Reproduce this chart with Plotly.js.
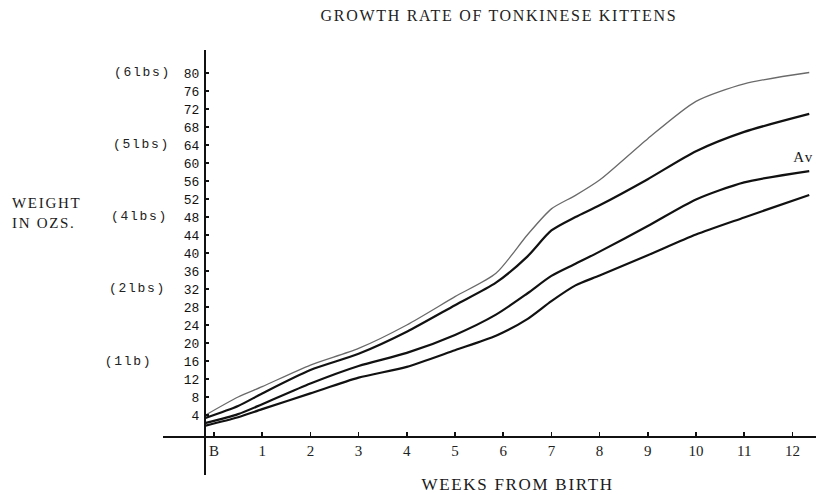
<!DOCTYPE html>
<html>
<head>
<meta charset="utf-8">
<script src="https://cdn.plot.ly/plotly-3.0.1.min.js"></script>
<style>
  html, body { margin: 0; padding: 0; background: #fff; }
  #chart { width: 816px; height: 495px; }
  .main-svg text.gtitle, .main-svg text.annotation-text { letter-spacing: 1.7px; }
</style>
</head>
<body>
<div id="chart"></div>
<script>
// Weeks from birth (B = 0)
const weeks    = [-0.19, 0.5, 1, 2, 3, 4, 5, 5.85, 6.5, 7, 7.5, 8, 9, 10, 11, 12.35];
// Weight in ounces
const heaviest = [3.9, 8.0, 10.3, 15.1, 18.8, 24.0, 30.3, 35.5, 44.0, 49.8, 52.8, 56.2, 65.4, 73.7, 77.6, 80.1];
const upper    = [3.3, 6.0, 8.8, 14.0, 17.6, 22.5, 28.4, 33.4, 39.2, 45.0, 48.0, 50.6, 56.4, 62.6, 66.9, 70.9];
const average  = [2.2, 4.2, 6.4, 11.0, 14.9, 17.8, 21.8, 26.3, 31.0, 34.9, 37.6, 40.3, 46.0, 51.9, 55.7, 58.2];
const lower    = [1.6, 3.5, 5.3, 8.8, 12.3, 14.7, 18.4, 21.6, 25.3, 29.3, 32.8, 35.0, 39.5, 44.1, 47.9, 52.9];

const xTickVals = [0, 1, 2, 3, 4, 5, 6, 7, 8, 9, 10, 11, 12];
const xTickText = ['B', '1', '2', '3', '4', '5', '6', '7', '8', '9', '10', '11', '12'];
const yTickVals = [4, 8, 12, 16, 20, 24, 28, 32, 36, 40, 44, 48, 52, 56, 60, 64, 68, 72, 76, 80];
const lbsLabels = ['(6lbs)', '(5lbs)', '(4lbs)', '(2lbs)', '(1lb)'];
const lbsAt     = [80, 64, 48, 32, 16];

const serif = 'Liberation Serif, Times New Roman, serif';
const mono = 'Liberation Mono, Courier New, monospace';

function series(y, color, width) {
  return {
    x: weeks, y: y, type: 'scatter', mode: 'lines',
    line: { color: color, width: width, shape: 'spline', smoothing: 0.7 },
    hoverinfo: 'skip', showlegend: false
  };
}

const data = [
  series(heaviest, '#6a6a6a', 1.3),
  series(upper, '#111', 2.2),
  series(average, '#111', 2.2),
  series(lower, '#111', 2.2)
];

const lbsX = [0.008, 0.006, 0.003, 0.0, -0.02];
const annotations = lbsLabels.map((t, i) => ({
  text: t, xref: 'paper', yref: 'y', x: lbsX[i], y: lbsAt[i],
  xanchor: 'right', yanchor: 'middle', showarrow: false,
  font: { family: mono, size: 13, color: '#222' }
}));
annotations.push({
  text: 'WEIGHT<br>IN OZS.', xref: 'paper', yref: 'paper', x: -0.234, y: 0.616,
  xanchor: 'left', yanchor: 'middle', align: 'left', showarrow: false,
  font: { family: serif, size: 15, color: '#1a1a1a' }
});
annotations.push({
  text: 'WEEKS FROM BIRTH', xref: 'paper', yref: 'paper', x: 0.5436, y: -0.0235,
  xanchor: 'center', yanchor: 'middle', showarrow: false,
  font: { family: serif, size: 17, color: '#1a1a1a' }
});
annotations.push({
  text: 'Av', xref: 'paper', yref: 'paper', x: 0.998, y: 0.748,
  xanchor: 'right', yanchor: 'middle', showarrow: false,
  font: { family: serif, size: 15, color: '#1a1a1a' }
});

const layout = {
  width: 816, height: 495,
  margin: { l: 163, r: 0, t: 50, b: 20 },
  paper_bgcolor: '#fff', plot_bgcolor: '#fff',
  title: {
    text: 'GROWTH RATE OF TONKINESE KITTENS',
    xref: 'container', yref: 'container', x: 0.6115, y: 0.9697,
    xanchor: 'center', yanchor: 'middle',
    font: { family: serif, size: 16, color: '#222' }
  },
  xaxis: {
    range: [-1.058, 12.49], anchor: 'free', position: 0.0894,
    tickmode: 'array', tickvals: xTickVals, ticktext: xTickText,
    ticks: 'inside', ticklen: 4, tickwidth: 1.5, tickcolor: '#111',
    showline: true, linecolor: '#111', linewidth: 2,
    showgrid: false, zeroline: false,
    tickfont: { family: serif, size: 15, color: '#222' }
  },
  yaxis: {
    range: [-9.33, 85.1], anchor: 'free', position: 0.0643,
    tickmode: 'array', tickvals: yTickVals,
    ticks: 'inside', ticklen: 3, tickwidth: 1.5, tickcolor: '#111',
    showline: true, linecolor: '#111', linewidth: 2,
    showgrid: false, zeroline: false, ticklabelstandoff: 2,
    tickfont: { family: mono, size: 13, color: '#111' }
  },
  annotations: annotations
};

Plotly.newPlot('chart', data, layout, { staticPlot: true, displayModeBar: false });
</script>
</body>
</html>
